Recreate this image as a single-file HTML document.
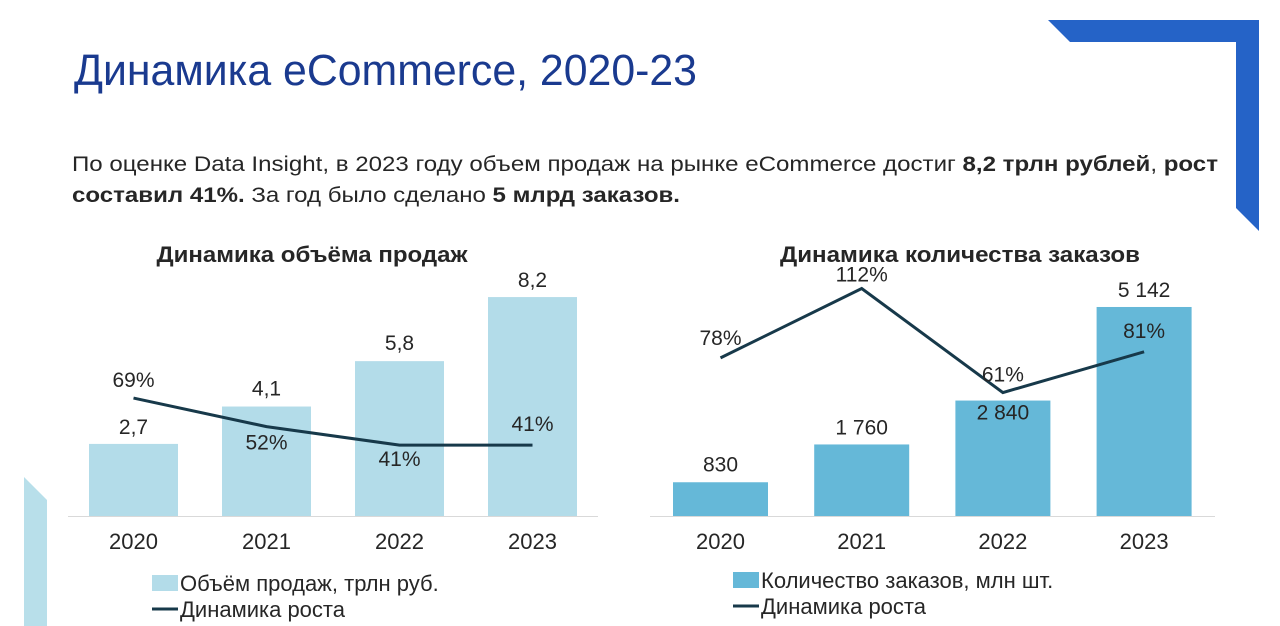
<!DOCTYPE html>
<html><head><meta charset="utf-8">
<style>
html,body{margin:0;padding:0;background:#fff;}
svg{display:block;font-family:"Liberation Sans",Arial,sans-serif;}
</style></head>
<body>
<svg width="1280" height="626" viewBox="0 0 1280 626" xmlns="http://www.w3.org/2000/svg">
<polygon points="1048,20 1259,20 1259,231 1236,208 1236,42 1070,42" fill="#2563c7"/>
<polygon points="24,477 47,500 47,626 24,626" fill="#b8dfea"/>
<text x="74" y="85" font-size="44" fill="#1a3a8f" textLength="623" lengthAdjust="spacingAndGlyphs">Динамика eCommerce, 2020-23</text>
<text x="72" y="171" font-size="21" fill="#262626" textLength="1146" lengthAdjust="spacingAndGlyphs">По оценке Data Insight, в 2023 году объем продаж на рынке eCommerce достиг <tspan font-weight="bold">8,2 трлн рублей</tspan>, <tspan font-weight="bold">рост</tspan></text>
<text x="72" y="202" font-size="21" fill="#262626" textLength="608" lengthAdjust="spacingAndGlyphs"><tspan font-weight="bold">составил 41%.</tspan> За год было сделано <tspan font-weight="bold">5 млрд заказов.</tspan></text>
<g id="c1"></g>
<g id="c2"></g>
</svg>
<script>
const years = ["2020","2021","2022","2023"];
const salesValues = [2.7, 4.1, 5.8, 8.2];
const salesLabels = ["2,7","4,1","5,8","8,2"];
const salesGrowth = [69, 52, 41, 41];
const ordersValues = [830, 1760, 2840, 5142];
const ordersLabels = ["830","1 760","2 840","5 142"];
const ordersGrowth = [78, 112, 61, 81];

const NS = "http://www.w3.org/2000/svg";
function mk(parent, tag, attrs, text){
  const e = document.createElementNS(NS, tag);
  for (const k in attrs) e.setAttribute(k, attrs[k]);
  if (text !== undefined) e.textContent = text;
  parent.appendChild(e);
  return e;
}
function drawChart(cfg){
  const g = document.getElementById(cfg.id);
  const base = 516;
  const xC = i => cfg.x0 + i * cfg.step;
  const yBar = v => base - v * cfg.barScale;
  const yLine = p => cfg.lineBase - p * cfg.lineScale;
  let t = mk(g, "text", {x: cfg.titleX, y: 262, "font-size": 22, "font-weight": "bold", fill: "#262626", "text-anchor": "middle", textLength: cfg.titleW, lengthAdjust: "spacingAndGlyphs"}, cfg.title);
  
  
  cfg.values.forEach((v, i) => {
    const r = mk(g, "rect", {x: xC(i) - cfg.barW / 2, y: yBar(v), width: cfg.barW, height: base - yBar(v), fill: cfg.color});
    
    
  });
  const ax = mk(g, "line", {x1: cfg.axX1, x2: cfg.axX2, y1: base + 0.5, y2: base + 0.5, stroke: "#d9d9d9", "stroke-width": 1});
  
  
  years.forEach((yr, i) => {
    const e = mk(g, "text", {x: xC(i), y: 549, "font-size": 22, fill: "#262626", "text-anchor": "middle"}, yr);
    
    
  });
  const pts = cfg.growth.map((p, i) => xC(i) + "," + yLine(p)).join(" ");
  const pl = mk(g, "polyline", {points: pts, fill: "none", stroke: "#17394a", "stroke-width": 3, "stroke-linejoin": "miter"});
  
  
  cfg.values.forEach((v, i) => {
    const e = mk(g, "text", {x: xC(i), y: yBar(v) + cfg.barLabelOff[i], "font-size": 21, fill: "#262626", "text-anchor": "middle"}, cfg.labels[i]);
    
    
  });
  cfg.growth.forEach((p, i) => {
    const e = mk(g, "text", {x: xC(i), y: yLine(p) + cfg.lineLabelOff[i], "font-size": 21, fill: "#262626", "text-anchor": "middle"}, p + "%");
    
    
  });
  const ls = mk(g, "rect", {x: cfg.legX, y: cfg.legY - 8, width: 26, height: 16, fill: cfg.color});
  
  
  const lt = mk(g, "text", {x: cfg.legX + 28, y: cfg.legY + 8, "font-size": 22, fill: "#262626"}, cfg.legendText);
  
  
  const ll = mk(g, "line", {x1: cfg.legX, x2: cfg.legX + 26, y1: cfg.legY + 26, y2: cfg.legY + 26, stroke: "#17394a", "stroke-width": 3});
  
  
  const lt2 = mk(g, "text", {x: cfg.legX + 28, y: cfg.legY + 34, "font-size": 22, fill: "#262626"}, "Динамика роста");
  
  
}
drawChart({id: "c1", title: "Динамика объёма продаж", titleX: 312, titleW: 311, x0: 133.5, step: 133, barW: 89,
  values: salesValues, labels: salesLabels, growth: salesGrowth, color: "#b3dce9",
  barScale: 26.7, lineBase: 514, lineScale: 1.68, axX1: 68, axX2: 598,
  barLabelOff: [-10, -11, -11, -10], lineLabelOff: [-11, 23, 21, -14],
  legX: 152, legY: 583, legendText: "Объём продаж, трлн руб."});
drawChart({id: "c2", title: "Динамика количества заказов", titleX: 960, titleW: 360, x0: 720.5, step: 141.2, barW: 95,
  values: ordersValues, labels: ordersLabels, growth: ordersGrowth, color: "#65b8d8",
  barScale: 0.04065, lineBase: 517, lineScale: 2.04, axX1: 650, axX2: 1215,
  barLabelOff: [-11, -10, 19, -10], lineLabelOff: [-13, -7, -11, -14],
  legX: 733, legY: 580, legendText: "Количество заказов, млн шт."});
</script>
</body></html>
